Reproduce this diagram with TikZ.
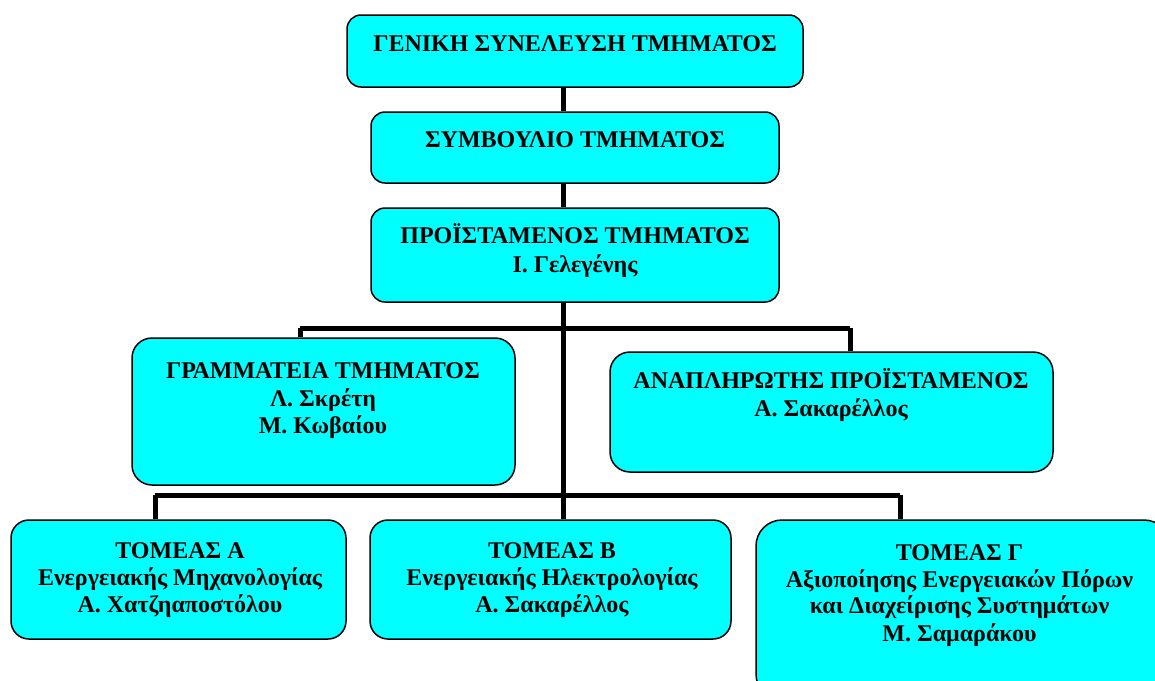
\documentclass[tikz,border=0pt]{standalone}
\usepackage{fontspec}
\setmainfont{Liberation Serif}
\definecolor{boxcyan}{RGB}{0,255,255}
\begin{document}
\begin{tikzpicture}[x=1pt,y=-1pt,
  box/.style={draw=black,line width=1.5pt,fill=boxcyan,rounded corners=#1,inner sep=0pt},
  box/.default=14pt,
  txt/.style={anchor=base,inner sep=0pt,font=\fontsize{24}{28}\selectfont\bfseries},
  txts/.style={anchor=base,inner sep=0pt,font=\fontsize{24}{28}\selectfont\bfseries},
  conn/.style={line width=5pt,draw=black}]
\useasboundingbox (0,0) rectangle (1155,680);
\clip (0,0) rectangle (1155,680);
% boxes
\node[box, minimum width=456pt, minimum height=72pt] (b1) at (575,51) {};
\node[box, minimum width=408pt, minimum height=71pt] (b2) at (575,147.5) {};
\node[box, minimum width=408pt, minimum height=94pt] (b3) at (575,255) {};
\node[box=20pt, minimum width=383pt, minimum height=147pt] (b4) at (323.5,411.5) {};
\node[box=20pt, minimum width=443pt, minimum height=120pt] (b5) at (831.5,412) {};
\node[box=18pt, minimum width=335pt, minimum height=119pt] (bA) at (178.5,579.5) {};
\node[box=18pt, minimum width=361pt, minimum height=119pt] (bB) at (550.5,579.5) {};
\node[box=26pt, minimum width=414pt, minimum height=180pt] (bC) at (963,610) {};
% junctions
\coordinate (j1) at (563,328);
\coordinate (j2) at (563,495);
\coordinate (L1) at (300,328);
\coordinate (R1) at (850,328);
\coordinate (L2) at (155,495);
\coordinate (R2) at (900,495);
% connectors
\draw[conn] (b1.south -| j1) -- (b2.north -| j1);
\draw[conn] (b2.south -| j1) -- (b3.north -| j1);
\draw[conn] (b3.south -| j1) -- (j2);
\draw[conn] (L1) -- (R1);
\draw[conn] (L1) -- (L1 |- b4.north);
\draw[conn] (R1) -- (R1 |- b5.north);
\draw[conn] (L2) -- (R2);
\draw[conn] (L2) -- (L2 |- bA.north);
\draw[conn] (j2) -- (j2 |- bB.north);
\draw[conn] (R2) -- (R2 |- bC.north);
% texts
\node[txt] (t1) at (575,51) {ΓΕΝΙΚΗ ΣΥΝΕΛΕΥΣΗ ΤΜΗΜΑΤΟΣ};
\node[txt] (t2) at (575,147) {ΣΥΜΒΟΥΛΙΟ ΤΜΗΜΑΤΟΣ};
\node[txt] (t3a) at (575,243) {ΠΡΟΪΣΤΑΜΕΝΟΣ ΤΜΗΜΑΤΟΣ};
\node[txt] (t3b) at (575,272) {Ι. Γελεγένης};
\node[txt] (t4a) at (323,378) {ΓΡΑΜΜΑΤΕΙΑ ΤΜΗΜΑΤΟΣ};
\node[txt] (t4b) at (323,406) {Λ. Σκρέτη};
\node[txt] (t4c) at (323,433) {Μ. Κωβαίου};
\node[txt] (t5a) at (831,388) {ΑΝΑΠΛΗΡΩΤΗΣ ΠΡΟΪΣΤΑΜΕΝΟΣ};
\node[txt] (t5b) at (831,416) {Α. Σακαρέλλος};
\node[txts] (tAa) at (180,558) {ΤΟΜΕΑΣ Α};
\node[txts] (tAb) at (180,585) {Ενεργειακής Μηχανολογίας};
\node[txts] (tAc) at (180,612) {Α. Χατζηαποστόλου};
\node[txts] (tBa) at (552,558) {ΤΟΜΕΑΣ Β};
\node[txts] (tBb) at (552,585) {Ενεργειακής Ηλεκτρολογίας};
\node[txts] (tBc) at (552,612) {Α. Σακαρέλλος};
\node[txts] (tCa) at (959.5,560) {ΤΟΜΕΑΣ Γ};
\node[txts] (tCb) at (959.5,587) {Αξιοποίησης Ενεργειακών Πόρων};
\node[txts] (tCc) at (959.5,613) {και Διαχείρισης Συστημάτων};
\node[txts] (tCd) at (959.5,641) {Μ. Σαμαράκου};
\end{tikzpicture}
\end{document}
